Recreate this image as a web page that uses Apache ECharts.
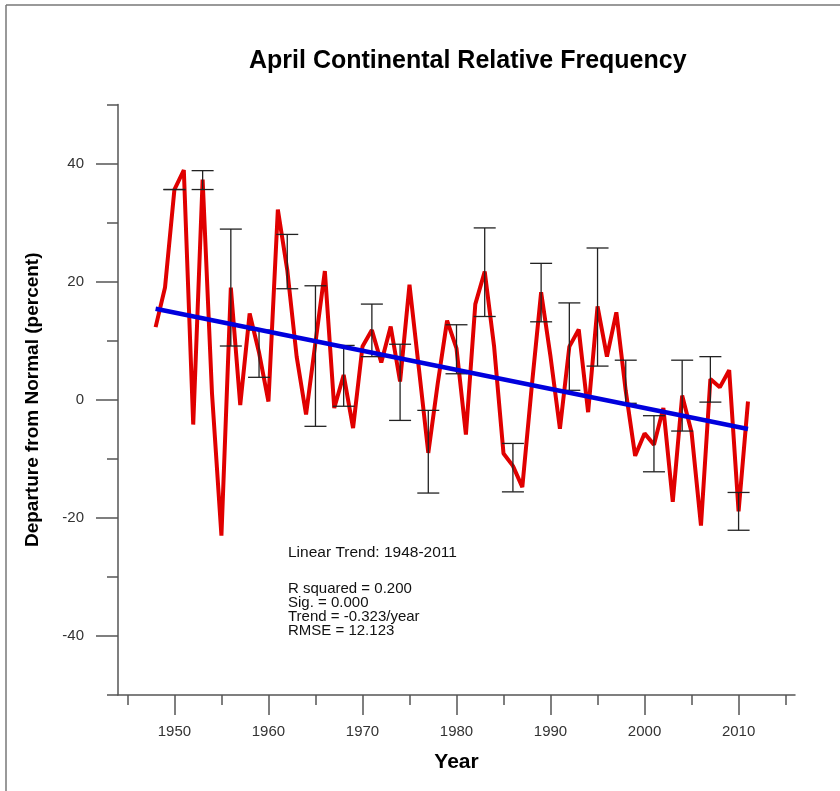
<!DOCTYPE html>
<html>
<head>
<meta charset="utf-8">
<script src="https://cdn.jsdelivr.net/npm/echarts@6/dist/echarts.min.js"></script>
<style>
  html, body { margin: 0; padding: 0; background: #fff; }
  #chart { width: 840px; height: 791px; }
</style>
</head>
<body>
<div id="chart"></div>
<script>
// April departure from normal, 1948-2011 (percent)
const years = [];
for (let y = 1948; y <= 2011; y++) years.push(y);

const departures = [
  12.3, 19.0, 35.6, 38.9, -4.2, 37.3, 1.0, -23.0, 19.0, -0.9,   // 1948-1957
  14.6, 8.0, -0.3, 32.2, 22.0, 7.3, -2.5, 9.7, 21.8, -1.4,      // 1958-1967
  4.2, -4.8, 9.0, 11.8, 6.3, 12.4, 3.1, 19.5, 5.3, -9.0,        // 1968-1977
  2.7, 13.4, 8.7, -5.9, 16.2, 21.7, 9.0, -9.1, -11.2, -14.8,    // 1978-1987
  2.2, 18.2, 7.3, -4.9, 9.0, 11.9, -2.1, 15.8, 7.3, 14.8,       // 1988-1997
  1.5, -9.5, -5.7, -7.6, -1.4, -17.3, 0.7, -5.5, -21.3, 3.5,    // 1998-2007
  2.1, 5.0, -18.9, -0.3                                          // 2008-2011
];

// error bars: [year, low, high]
const errorBars = [
  [1950, 35.6, 35.6], [1953, 35.6, 38.8], [1956, 9.1, 28.9], [1959, 3.8, 11.8],
  [1962, 18.8, 28.0], [1965, -4.5, 19.3], [1968, -1.1, 9.2], [1971, 7.3, 16.2],
  [1974, -3.5, 9.4], [1977, -15.8, -1.8], [1980, 4.4, 12.7], [1983, 14.1, 29.1],
  [1986, -15.6, -7.4], [1989, 13.2, 23.1], [1992, 1.6, 16.4], [1995, 5.7, 25.7],
  [1998, -0.6, 6.7], [2001, -12.2, -2.7], [2004, -5.3, 6.7], [2007, -0.4, 7.3],
  [2010, -22.1, -15.7]
];

// linear trend end points
const trendLine = [[1948, 15.4], [2011, -4.95]];

const xMajorTicks = [1950, 1960, 1970, 1980, 1990, 2000, 2010];
const xMinorTicks = [1945, 1955, 1965, 1975, 1985, 1995, 2005, 2015];
const yMajorTicks = [-40, -20, 0, 20, 40];
const yMinorTicks = [-50, -30, -10, 10, 30, 50];

const statsLines = [
  'R squared = 0.200',
  'Sig. = 0.000',
  'Trend = -0.323/year',
  'RMSE = 12.123'
];

const axisColor = '#555';
const font = 'Liberation Sans, Arial, sans-serif';

const chart = echarts.init(document.getElementById('chart'));

const option = {
  backgroundColor: '#fff',
  animation: false,
  title: {
    text: 'April Continental Relative Frequency',
    left: 244,
    top: 44,
    textStyle: { fontSize: 25, fontWeight: 'bold', color: '#000', fontFamily: font }
  },
  grid: { left: 118, right: 45, top: 104.5, bottom: 96 },
  xAxis: [
    {
      type: 'value', position: 'bottom', min: 1944, max: 2016,
      axisLine: { onZero: false, lineStyle: { color: axisColor, width: 1.5 } },
      axisTick: { customValues: xMajorTicks, length: 20, lineStyle: { color: axisColor, width: 1.5 } },
      axisLabel: {
        customValues: xMajorTicks, margin: 29, fontSize: 15, color: '#333', fontFamily: font,
        formatter: v => String(v)
      },
      splitLine: { show: false },
      name: 'Year', nameLocation: 'middle', nameGap: 57,
      nameTextStyle: { fontSize: 21, fontWeight: 'bold', color: '#000', fontFamily: font }
    },
    {
      type: 'value', position: 'bottom', min: 1944, max: 2016,
      axisLine: { show: false, onZero: false },
      axisTick: { customValues: xMinorTicks, length: 10, lineStyle: { color: axisColor, width: 1.5 } },
      axisLabel: { show: false },
      splitLine: { show: false }
    }
  ],
  yAxis: [
    {
      type: 'value', position: 'left', min: -50, max: 50,
      axisLine: { show: true, onZero: false, lineStyle: { color: axisColor, width: 1.5 } },
      axisTick: { customValues: yMajorTicks, length: 22, lineStyle: { color: axisColor, width: 1.5 } },
      axisLabel: { customValues: yMajorTicks, margin: 34, fontSize: 15, color: '#333', fontFamily: font },
      splitLine: { show: false },
      name: 'Departure from Normal (percent)', nameLocation: 'middle', nameGap: 76,
      nameTextStyle: { fontSize: 19, fontWeight: 'bold', color: '#000', fontFamily: font }
    },
    {
      type: 'value', position: 'left', min: -50, max: 50,
      axisLine: { show: false, onZero: false },
      axisTick: { customValues: yMinorTicks, length: 11, lineStyle: { color: axisColor, width: 1.5 } },
      axisLabel: { show: false },
      splitLine: { show: false }
    }
  ],
  graphic: [
    { type: 'line', shape: { x1: 6, y1: 5, x2: 840, y2: 5 }, style: { stroke: '#777', lineWidth: 1.5 } },
    { type: 'line', shape: { x1: 6, y1: 5, x2: 6, y2: 791 }, style: { stroke: '#777', lineWidth: 1.5 } },
    {
      type: 'text', left: 288, top: 545,
      style: { text: 'Linear Trend: 1948-2011', fontSize: 15.5, fill: '#111', fontFamily: font }
    },
    {
      type: 'text', left: 288, top: 581,
      style: { text: statsLines.join('\n'), fontSize: 15, lineHeight: 14, fill: '#111', fontFamily: font }
    }
  ],
  series: [
    {
      type: 'line',
      data: years.map((y, i) => [y, departures[i]]),
      showSymbol: false,
      lineStyle: { color: '#e00000', width: 4 },
      z: 2
    },
    {
      type: 'custom',
      data: errorBars,
      z: 3,
      renderItem: function (params, api) {
        const x = api.value(0);
        const lo = api.coord([x, api.value(1)]);
        const hi = api.coord([x, api.value(2)]);
        const half = 11;
        const style = { stroke: '#222', lineWidth: 1.3 };
        return {
          type: 'group',
          children: [
            { type: 'line', shape: { x1: lo[0], y1: lo[1], x2: hi[0], y2: hi[1] }, style: style },
            { type: 'line', shape: { x1: lo[0] - half, y1: lo[1], x2: lo[0] + half, y2: lo[1] }, style: style },
            { type: 'line', shape: { x1: hi[0] - half, y1: hi[1], x2: hi[0] + half, y2: hi[1] }, style: style }
          ]
        };
      }
    },
    {
      type: 'line',
      data: trendLine,
      showSymbol: false,
      lineStyle: { color: '#0000dd', width: 4.5 },
      z: 4
    }
  ]
};

chart.setOption(option);
</script>
</body>
</html>
